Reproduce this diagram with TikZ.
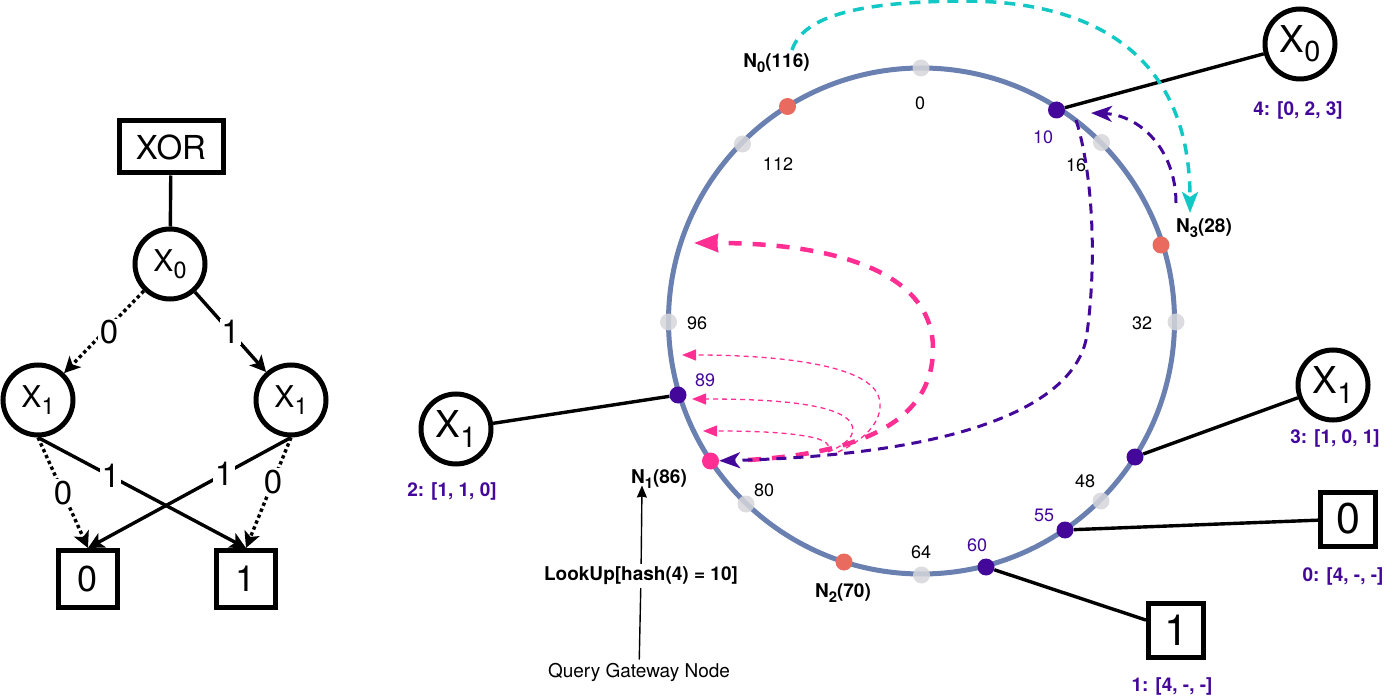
\documentclass[tikz,border=0pt]{standalone}
\usepackage{fontspec}
\setmainfont{TeX Gyre Heros}
\usetikzlibrary{arrows.meta}
\definecolor{ringblue}{HTML}{6A80B0}
\definecolor{keypurple}{HTML}{43089A}
\definecolor{nodered}{HTML}{E96B60}
\definecolor{slotgray}{HTML}{D6D6DA}
\definecolor{hotpink}{HTML}{FF2E93}
\definecolor{jumpcyan}{HTML}{12C8C4}
\newcommand{\nsub}[1]{\raisebox{-0.25em}{\scalebox{0.78}{#1}}}
\tikzstyle{vari} = [circle, minimum size=70pt, inner sep=0pt, draw=black, line width=5pt, fill=white, font=\fontsize{30}{32}\selectfont]
\tikzstyle{varibig} = [vari, font=\fontsize{37}{39}\selectfont]
\tikzstyle{leaf} = [rectangle, minimum width=59pt, minimum height=57pt, inner sep=0pt, draw=black, line width=5pt, fill=white, font=\fontsize{36}{38}\selectfont]
\tikzstyle{leafbig} = [leaf, minimum width=55pt, minimum height=54pt, font=\fontsize{43}{45}\selectfont]
\tikzstyle{ringline} = [circle, minimum size=506pt, inner sep=0pt, draw=ringblue, line width=5pt]
\tikzstyle{dot} = [circle, minimum size=17pt, inner sep=0pt]
\tikzstyle{slot} = [dot, fill=slotgray, fill opacity=0.85]
\tikzstyle{peer} = [dot, fill=nodered]
\tikzstyle{key} = [dot, fill=keypurple]
\tikzstyle{gate} = [dot, fill=hotpink]
\tikzstyle{num} = [inner sep=0pt, font=\fontsize{18}{20}\selectfont]
\tikzstyle{keynum} = [num, text=keypurple]
\tikzstyle{peername} = [inner sep=0pt, font=\fontsize{19}{21}\selectfont\bfseries]
\tikzstyle{keylist} = [peername, text=keypurple]
\tikzstyle{edgenum} = [inner sep=1.5pt, fill=white, font=\fontsize{33}{35}\selectfont]
\tikzstyle{tree} = [line width=3.4pt, -{Stealth[length=16pt,width=16pt,inset=4pt]}]
\tikzstyle{treedot} = [tree, dash pattern=on 3.4pt off 3pt]
\tikzstyle{attach} = [line width=3.4pt]

\begin{document}
\begin{tikzpicture}[x=1pt,y=-1pt]

\useasboundingbox (0,0) rectangle (1400,700);

\node at (171,147) (xor) [leaf, minimum width=104pt, minimum height=52pt, font=\fontsize{33}{35}\selectfont] {XOR};
\node at (170,264) (tx0) [vari] {X\nsub{0}};
\node at (38,400) (tx1l) [vari] {X\nsub{1}};
\node at (291,400) (tx1r) [vari] {X\nsub{1}};
\node at (88,579) (tzero) [leaf] {0};
\node at (246,579) (tone) [leaf] {1};

\draw[attach] (xor) -- (tx0);
\draw[treedot] (tx0) -- node[edgenum, xshift=5pt] {0} (tx1l);
\draw[tree] (tx0) -- node[edgenum] {1} (tx1r);
\draw[treedot] (tx1l.south) -- node[edgenum, pos=0.5] {0} (tzero.north);
\draw[tree] (tx1l.south) -- node[edgenum, pos=0.35] {1} (tone.north);
\draw[tree] (tx1r.south) -- node[edgenum, pos=0.33] {1} (tzero.north);
\draw[treedot] (tx1r.south) -- node[edgenum, pos=0.4] {0} (tone.north);

\node at (921.5,321) (ring) [ringline] {};

\node at (921,68) (s0) [slot] {};
\node at (742.5,144) (s112) [slot] {};
\node at (1101.5,142.5) (s16) [slot] {};
\node at (1176,322) (s32) [slot] {};
\node at (1101,501) (s48) [slot] {};
\node at (921.5,575) (s64) [slot] {};
\node at (746,504) (s80) [slot] {};
\node at (668.5,322) (s96) [slot] {};

\node at (787.5,106.5) (n0) [peer] {};
\node at (1161,245) (n3) [peer] {};
\node at (844,562) (n2) [peer] {};
\node at (710.5,461) (n1) [gate] {};

\node at (1056.5,110) (k10) [key] {};
\node at (1135,457) (k48) [key] {};
\node at (1065,530) (k55) [key] {};
\node at (986,567) (k60) [key] {};
\node at (678,395) (k89) [key] {};

\node at (920,103) (l0) [num] {0};
\node at (778,164) (l112) [num] {112};
\node at (1076,165) (l16) [num] {16};
\node at (1142,323) (l32) [num] {32};
\node at (1085,481) (l48) [num] {48};
\node at (921,552) (l64) [num] {64};
\node at (764,490) (l80) [num] {80};
\node at (697,323) (l96) [num] {96};

\node at (1043,137) (l10) [keynum] {10};
\node at (1044,515) (l55) [keynum] {55};
\node at (977,545) (l60) [keynum] {60};
\node at (705,380) (l89) [keynum] {89};

\node at (776.5,63) (n0name) [peername] {N\nsub{0}(116)};
\node at (1204,228) (n3name) [peername] {N\nsub{3}(28)};
\node at (843,593) (n2name) [peername] {N\nsub{2}(70)};
\node at (659,479) (n1name) [peername] {N\nsub{1}(86)};

\node at (1300,44) (x0big) [varibig] {X\nsub{0}};
\node at (1333,385) (x1right) [varibig] {X\nsub{1}};
\node at (456,429) (x1left) [varibig] {X\nsub{1}};
\node at (1348,519) (zerobig) [leafbig] {0};
\node at (1176,630) (onebig) [leafbig] {1};

\draw[attach] (k10) -- (x0big);
\draw[attach] (k48) -- (x1right);
\draw[attach] (k89) -- (x1left);
\draw[attach] (k55) -- (zerobig);
\draw[attach] (k60) -- (onebig);

\node at (1298,110) (list4) [keylist] {4: [0, 2, 3]};
\node at (1335,438) (list3) [keylist] {3: [1, 0, 1]};
\node at (452,491) (list2) [keylist] {2: [1, 1, 0]};
\node at (1343,576) (list0) [keylist] {0: [4, -, -]};
\node at (1172,686) (list1) [keylist] {1: [4, -, -]};

\node at (639,672) (query) [num, font=\fontsize{19}{21}\selectfont] {Query Gateway Node};
\node at (641,576) (lookup) [peername] {LookUp[hash(4) = 10]};
\draw[line width=1.4pt, shorten >=3pt, shorten <=3pt] (query) -- (lookup);
\draw[line width=1.4pt, shorten <=3pt, -{Stealth[length=12pt,width=10pt,inset=1pt]}] (lookup) -- ([xshift=-17pt,yshift=3pt]n1name.south);

\coordinate (cyanfrom) at (792,50);
\coordinate (cyantop) at (960,1);
\coordinate (cyanto) at (1190,213);
\draw[jumpcyan, line width=3.5pt, dash pattern=on 11pt off 8pt, -{Stealth[length=21pt,width=16pt,inset=5pt]}] (cyanfrom) .. controls (805,10) and (880,2) .. (cyantop) .. controls (1100,0) and (1190,60) .. (cyanto);

\coordinate (bigfrom) at (748,460);
\coordinate (bigmid) at (933,350);
\coordinate (bigto) at (694,243);
\draw[hotpink, line width=4.5pt, dash pattern=on 13pt off 11pt, -{Stealth[length=24pt,width=18pt,inset=1pt]}] (bigfrom) .. controls (830,455) and (932,435) .. (bigmid) .. controls (934,270) and (830,243) .. (bigto);

\coordinate (thina) at (838,452);
\coordinate (thinamid) at (878,395);
\coordinate (thinato) at (682,355);
\coordinate (thinb) at (828,452);
\coordinate (thinbmid) at (851,423);
\coordinate (thinbto) at (692,399);
\coordinate (thinc) at (822,452);
\coordinate (thincmid) at (815,438);
\coordinate (thincto) at (703,431);
\draw[hotpink, line width=1.3pt, dash pattern=on 5pt off 4pt, -{Stealth[length=14pt,width=11pt,inset=0pt]}] (thina) .. controls (875,435) and (885,412) .. (thinamid) .. controls (865,365) and (780,355) .. (thinato);
\draw[hotpink, line width=1.3pt, dash pattern=on 5pt off 4pt, -{Stealth[length=14pt,width=11pt,inset=0pt]}] (thinb) .. controls (845,445) and (858,435) .. (thinbmid) .. controls (838,403) and (770,399) .. (thinbto);
\draw[hotpink, line width=1.3pt, dash pattern=on 5pt off 4pt, -{Stealth[length=14pt,width=11pt,inset=0pt]}] (thinc) .. controls (832,448) and (830,442) .. (thincmid) .. controls (790,432) and (750,431) .. (thincto);

\coordinate (purplefrom) at (1076,120);
\coordinate (purplemid) at (1086,340);
\draw[keypurple, line width=3pt, dash pattern=on 10pt off 7pt, -{Stealth[length=21pt,width=16pt,inset=6pt]}] (purplefrom) .. controls (1092,170) and (1098,260) .. (purplemid) .. controls (1070,410) and (950,455) .. (n1);

\coordinate (hopfrom) at (1176,203);
\coordinate (hopto) at (1091,113);
\draw[keypurple, line width=3pt, dash pattern=on 10pt off 7pt, -{Stealth[length=21pt,width=16pt,inset=6pt]}] (hopfrom) .. controls (1176,150) and (1140,115) .. (hopto);

\end{tikzpicture}
\end{document}
